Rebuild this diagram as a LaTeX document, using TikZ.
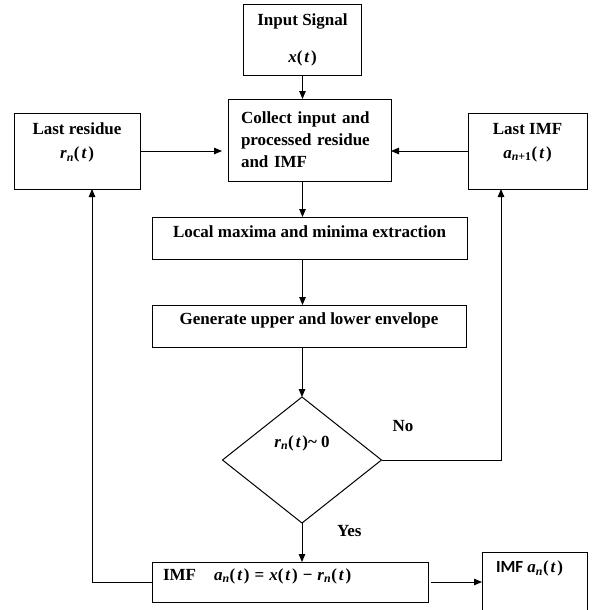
\documentclass[tikz,border=0pt]{standalone}
\usepackage{fontspec}
\setmainfont{Liberation Serif}
\newfontfamily\calibri{Carlito}
\usetikzlibrary{arrows.meta,shapes.geometric}
\newcommand{\sym}[1]{\textit{#1}}
\newcommand{\oft}{(\kern2pt\sym{t}\kern1.5pt)}

\begin{document}
\begin{tikzpicture}[
    x=1pt, y=-1pt,
    outer sep=0pt,
    box/.style={draw, rectangle, line width=1pt, inner sep=0pt},
    txt/.style={inner sep=0pt, align=center, font=\fontsize{17}{22}\selectfont\bfseries},
    flow/.style={line width=1pt, -{Triangle[length=8pt, width=6.5pt]}}
]
    \useasboundingbox (0,0) rectangle (593,610);

    % boxes
    \node [box, txt, minimum width=118pt, minimum height=70pt] (inp) at (302.5,40) {Input Signal\\[15pt]\sym{x}\oft};
    \node [box, txt, align=left, text width=137pt, inner xsep=13pt, minimum height=82pt] (col) at (309.5,140) {Collect input and\\processed residue\\and IMF};
    \node [box, minimum width=126pt, minimum height=76pt,
        label={[txt, anchor=north, yshift=-10pt]north:Last residue\\[2pt]\sym{r}\textsubscript{\sym{n}}\oft}] (lres) at (77,151) {};
    \node [box, minimum width=119pt, minimum height=76pt,
        label={[txt, anchor=north, yshift=-10pt]north:Last IMF\\[2pt]\sym{a}\textsubscript{\sym{n}+1}\oft}] (limf) at (527.5,151) {};
    \node [box, minimum width=315pt, minimum height=42pt,
        label={[txt, anchor=north, yshift=-9pt]north:Local maxima and minima extraction}] (loc) at (309.5,238) {};
    \node [box, minimum width=314pt, minimum height=42pt,
        label={[txt, anchor=north, yshift=-8pt]north:Generate upper and lower envelope}] (gen) at (309,326) {};
    \node [draw, diamond, line width=1pt, minimum width=159pt, minimum height=126pt, inner sep=0pt,
        label={[txt, anchor=center, yshift=-46pt]north:\sym{r}\textsubscript{\sym{n}}\oft\textasciitilde\ 0}] (dia) at (302,460) {};
    \node [box, minimum width=276pt, minimum height=40pt,
        label={[txt, anchor=north west, xshift=11pt, yshift=-6.5pt]north west:IMF\hspace{18pt}\sym{a}\textsubscript{\sym{n}}\oft\hspace{5pt}=\hspace{5pt}\sym{x}\oft\hspace{5pt}−\hspace{5pt}\sym{r}\textsubscript{\sym{n}}\oft}] (imf) at (290,582) {};
    \node [box, minimum width=105pt, minimum height=70pt,
        label={[txt, anchor=north west, xshift=14pt, yshift=-9pt]north west:{\calibri IMF} \sym{a}\textsubscript{\sym{n}}\oft}] (out) at (534.5,587) {};

    % connectors
    \draw [flow] (inp) -- (inp |- col.north);
    \draw [flow, shorten >=6pt] (lres.east) -- (lres.east -| col.west);
    \draw [flow] (limf.west) -- (limf.west -| col.east);
    \draw [flow] (col.south -| inp) -- (loc.north -| inp);
    \draw [flow] (loc.south -| inp) -- (gen.north -| inp);
    \draw [flow] (gen.south -| dia) -- (dia.north);
    \draw [flow] (dia.south) -- (imf.north -| dia) node [txt, pos=0.2, right=35pt] {Yes};
    \draw [flow] (dia.east) -| ([xshift=-26.5pt]limf.south) node [txt, pos=0.09, above=28pt] {No};
    \draw [flow] (imf.west) -| ([xshift=15pt]lres.south);
    \draw [flow, shorten <=3pt] (imf.east) -- (imf.east -| out.west);
\end{tikzpicture}
\end{document}
